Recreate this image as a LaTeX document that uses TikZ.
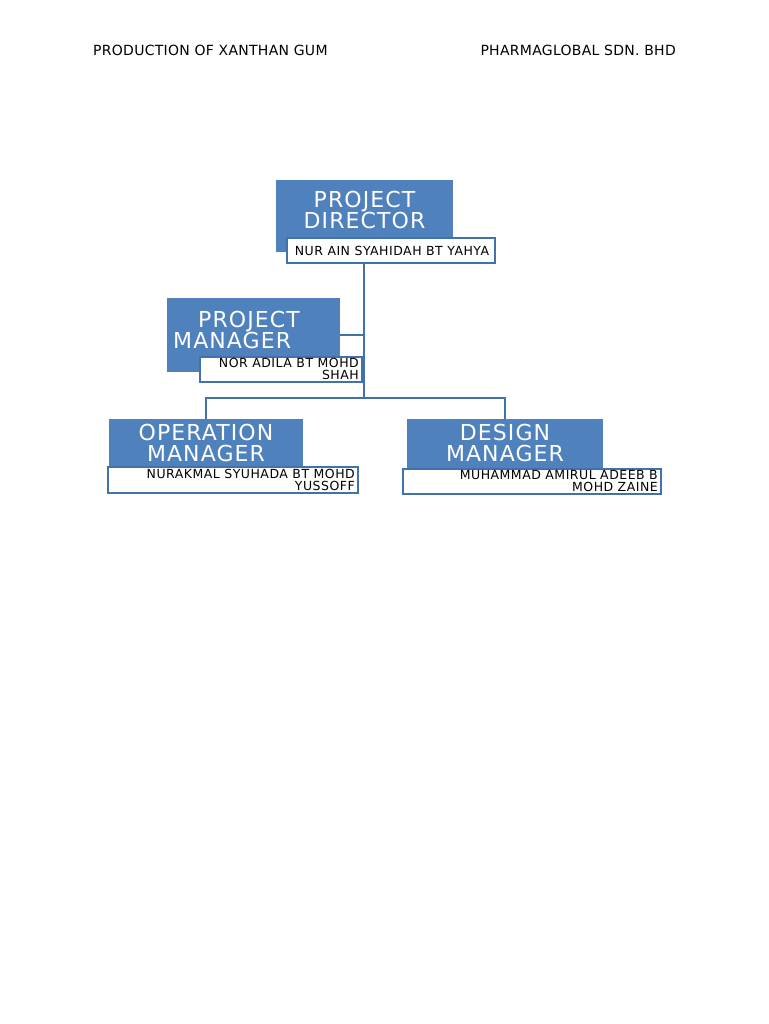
\documentclass[tikz,border=0pt]{standalone}
\usepackage{fontspec}
\setmainfont{DejaVu Sans}
\newfontfamily\titlefont[LetterSpace=5]{DejaVu Sans}
\newfontfamily\namefont[LetterSpace=4]{DejaVu Sans}
\newfontfamily\headfont[LetterSpace=2]{DejaVu Sans}
\definecolor{boxblue}{HTML}{4F81BD}
\definecolor{lineblue}{HTML}{4272AE}

\begin{document}
\begin{tikzpicture}[x=1pt,y=-1pt,
		titlebox/.style={rectangle, fill=boxblue, inner sep=0pt},
		titletext/.style={text=white, align=center, inner sep=0pt, font=\titlefont\fontsize{22}{21}\selectfont},
		namebox/.style={rectangle, draw=lineblue, line width=2.8pt, fill=white, inner sep=0pt},
		nametext/.style={inner sep=0pt, font=\namefont\fontsize{12.5}{11.5}\selectfont},
		link/.style={draw=lineblue, line width=2.8pt}]
		\useasboundingbox (0,0) rectangle (768,1024);
		
		\node (head1) at (93,50) [anchor=west, inner sep=0pt, font=\headfont\fontsize{14}{15}\selectfont] {PRODUCTION OF XANTHAN GUM};
		\node (head2) at (676,50) [anchor=east, inner sep=0pt, font=\headfont\fontsize{14}{15}\selectfont] {PHARMAGLOBAL SDN. BHD};
		
		% director
		\node (pd) at (364.5,216) [titlebox, minimum width=177pt, minimum height=72pt] {};
		\node (pdtext) at (364.5,210) [titletext] {PROJECT\\DIRECTOR};
		\node (pdname) at (391,250.5) [namebox, minimum width=208pt, minimum height=25pt] {};
		\node (pdnametext) at (392,250.5) [nametext] {NUR AIN SYAHIDAH BT YAHYA};
		
		% managers
		\node (pm) at (253.5,335) [titlebox, minimum width=173pt, minimum height=74pt] {};
		\node (pmtext) at (173,330) [titletext, anchor=west, align=left] {\hspace*{25pt}PROJECT\\MANAGER};
		\node (pmname) at (281,369.5) [namebox, minimum width=162pt, minimum height=25pt] {};
		\node (pmnametext) at (359,369) [nametext, anchor=east, align=right] {NOR ADILA BT MOHD\\SHAH};
		
		\node (om) at (206,443.5) [titlebox, minimum width=194pt, minimum height=49pt] {};
		\node (omtext) at (206,442.5) [titletext] {OPERATION\\MANAGER};
		\node (omname) at (233,480) [namebox, minimum width=250pt, minimum height=26pt] {};
		\node (omnametext) at (355,480) [nametext, anchor=east, align=right] {NURAKMAL SYUHADA BT MOHD\\YUSSOFF};
		
		\node (dm) at (505,444) [titlebox, minimum width=196pt, minimum height=50pt] {};
		\node (dmtext) at (505,442.5) [titletext] {DESIGN\\MANAGER};
		\node (dmname) at (532,481.5) [namebox, minimum width=258pt, minimum height=25pt] {};
		\node (dmnametext) at (658,481) [nametext, anchor=east, align=right] {MUHAMMAD AMIRUL ADEEB B\\MOHD ZAINE};
		
		\coordinate (split) at (364,398);
		\draw[link] (pdname.south -| split) -- (split);
		\draw[link] (pm.east) -- (pm.east -| split);
		\draw[link] (split) -| (om.north);
		\draw[link] (split) -| (dm.north);
		
	\end{tikzpicture}
\end{document}
